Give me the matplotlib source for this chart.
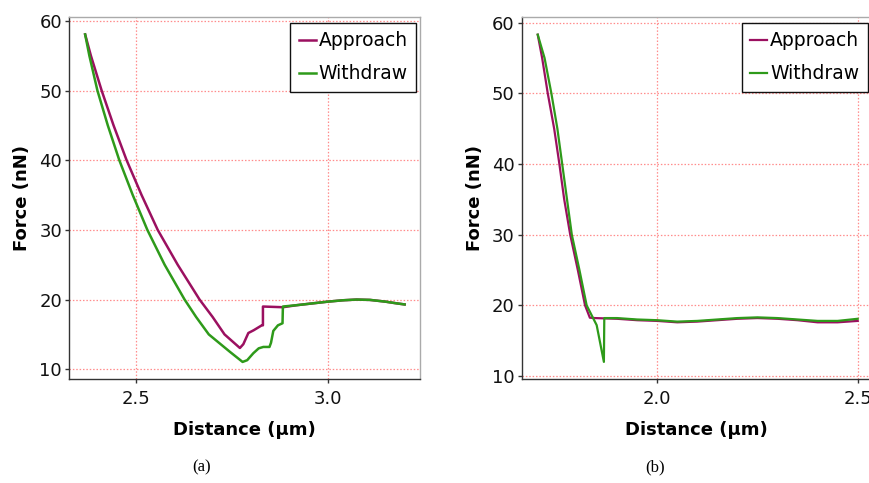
import matplotlib.pyplot as plt

APPROACH_COLOR = "#9b1060"
WITHDRAW_COLOR = "#2e9a1a"

# panel (a)
A_APPROACH_X = [2.368, 2.383, 2.411, 2.442, 2.476, 2.515, 2.557, 2.609, 2.666, 2.700, 2.731, 2.771,
                2.780, 2.793, 2.807, 2.828, 2.831, 2.831, 2.883,
                2.92, 2.96, 3.0, 3.04, 3.075, 3.11, 3.15, 3.18, 3.2]
A_APPROACH_Y = [58.05, 55, 50, 45, 40, 35, 30, 25, 20, 17.5, 15, 13.05,
                13.6, 15.2, 15.6, 16.3, 16.3, 19.0, 18.9,
                19.2, 19.45, 19.7, 19.9, 20.0, 19.95, 19.7, 19.45, 19.3]
A_WITHDRAW_X = [2.368, 2.379, 2.400, 2.427, 2.457, 2.492, 2.530, 2.575, 2.627, 2.657, 2.690, 2.745, 2.778,
                2.790, 2.806, 2.820, 2.832, 2.848, 2.852, 2.858, 2.870, 2.882, 2.883,
                2.92, 2.96, 3.0, 3.04, 3.075, 3.11, 3.15, 3.18, 3.2]
A_WITHDRAW_Y = [58.05, 55, 50, 45, 40, 35, 30, 25, 20, 17.5, 15, 12.5, 11.05,
                11.3, 12.3, 13.0, 13.2, 13.2, 13.8, 15.5, 16.3, 16.6, 19.0,
                19.2, 19.45, 19.7, 19.9, 20.0, 19.95, 19.7, 19.45, 19.3]

# panel (b)
B_APPROACH_X = [1.702, 1.713, 1.727, 1.743, 1.756, 1.768, 1.783, 1.802, 1.820, 1.832,
                1.845, 1.90, 1.95, 2.0, 2.05, 2.1, 2.15, 2.2, 2.25, 2.3, 2.35, 2.4, 2.45, 2.5]
B_APPROACH_Y = [58.3, 55, 50, 45, 40, 35, 30, 25, 20, 18.25,
                18.2, 18.1, 17.9, 17.8, 17.6, 17.7, 17.9, 18.1, 18.2, 18.1, 17.9, 17.6, 17.6, 17.8]
B_WITHDRAW_X = [1.702, 1.719, 1.736, 1.751, 1.763, 1.775, 1.787, 1.806, 1.824, 1.849, 1.867,
                1.868, 1.90, 1.95, 2.0, 2.05, 2.1, 2.15, 2.2, 2.25, 2.3, 2.35, 2.4, 2.45, 2.5]
B_WITHDRAW_Y = [58.3, 55, 50, 45, 40, 35, 30, 25, 20, 17.2, 12.0,
                18.2, 18.2, 18.0, 17.9, 17.7, 17.8, 18.0, 18.2, 18.3, 18.2, 18.0, 17.8, 17.8, 18.1]

Y_TICKS = [10, 20, 30, 40, 50, 60]


def style_axis(ax, xlim, ylim, xticks, width_px, height_px):
    ax.set_xlim(*xlim)
    ax.set_ylim(*ylim)
    ax.set_xticks(xticks)
    ax.set_xticklabels([f"{t:.1f}" for t in xticks])
    ax.set_yticks(Y_TICKS)
    ax.grid(True, color="#ff8c8c", linestyle=(0, (1.2, 1.5)), linewidth=0.9)
    ax.set_axisbelow(True)
    for side in ("left", "bottom"):
        ax.spines[side].set_color("#333333")
        ax.spines[side].set_linewidth(1.0)
    for side in ("top", "right"):
        ax.spines[side].set_color("#aaaaaa")
        ax.spines[side].set_linewidth(1.0)
    ax.tick_params(direction="out", length=3, width=1, color="#333333",
                   labelsize=13, pad=2, labelcolor="#111111")
    ax.tick_params(axis="x", pad=5)
    ax.set_xlabel("Distance (µm)", fontsize=13, fontweight="bold", labelpad=9)
    ax.set_ylabel("Force (nN)", fontsize=13, fontweight="bold", labelpad=6)
    leg = ax.legend(loc="upper right", bbox_to_anchor=(1 - 4 / width_px, 1 - 6 / height_px),
                    fontsize=13.5, handlelength=0.9, handletextpad=0.15,
                    borderaxespad=0, borderpad=0.45, labelspacing=0.75,
                    frameon=True, fancybox=False, framealpha=1)
    leg.get_frame().set_edgecolor("#111111")
    leg.get_frame().set_linewidth(1.0)


fig = plt.figure(figsize=(8.7, 4.83), dpi=100)
ax_a = fig.add_axes([69 / 870, 104 / 483, 351 / 870, 362 / 483])
ax_b = fig.add_axes([521.7 / 870, 104 / 483, 350 / 870, 362 / 483])

ax_a.plot(A_APPROACH_X, A_APPROACH_Y, color=APPROACH_COLOR, linewidth=1.8, label="Approach")
ax_a.plot(A_WITHDRAW_X, A_WITHDRAW_Y, color=WITHDRAW_COLOR, linewidth=1.8, label="Withdraw")
style_axis(ax_a, (2.326, 3.240), (8.6, 60.55), [2.5, 3.0], 351, 362)

ax_b.plot(B_APPROACH_X, B_APPROACH_Y, color=APPROACH_COLOR, linewidth=1.6, label="Approach")
ax_b.plot(B_WITHDRAW_X, B_WITHDRAW_Y, color=WITHDRAW_COLOR, linewidth=1.6, label="Withdraw")
style_axis(ax_b, (1.662, 2.535), (9.58, 60.8), [2.0, 2.5], 350, 362)

fig.text(202 / 870, 1 - 467 / 483, "(a)", fontsize=12, family="Liberation Serif",
         ha="center", va="center")
fig.text(655 / 870, 1 - 467 / 483, "(b)", fontsize=12, family="Liberation Serif",
         ha="center", va="center")

fig.savefig("out.png", dpi=100)
